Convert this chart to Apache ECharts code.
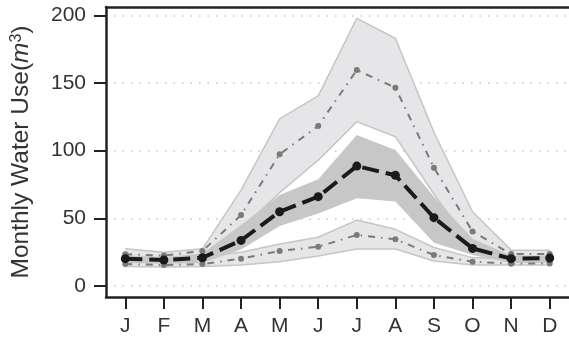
<!DOCTYPE html>
<html><head><meta charset="utf-8">
<script src="https://cdn.jsdelivr.net/npm/echarts@6/dist/echarts.min.js"></script>
<style>html,body{margin:0;padding:0;background:#fff}#c{width:569px;height:339px}</style>
</head><body><div id="c"></div>
<script>
// ---- data ----
const months = ['J','F','M','A','M','J','J','A','S','O','N','D'];
const yTicks = [0,50,100,150,200];
const median     = [20.2, 19.2, 20.9, 33.7, 54.9, 66.0, 88.6, 81.8, 50.5, 27.8, 20.2, 20.7];
const upperLine  = [23.5, 22.5, 25.9, 52.4, 97.3, 118.2, 159.5, 146.5, 87.4, 40.3, 23.6, 23.6];
const lowerLine  = [16.2, 15.5, 16.2, 20.2, 25.9, 29.0, 37.7, 34.5, 22.9, 18.0, 16.5, 16.7];
const upperBandHi = [27.5, 25.0, 27.5, 70.9, 123.5, 140.5, 197.7, 183.0, 113.5, 54.9, 26.5, 26.5];
const upperBandLo = [20.0, 19.0, 21.0, 42.0, 69.0, 93.0, 121.4, 110.3, 68.0, 28.0, 20.0, 20.0];
const midBandHi   = [22.5, 21.5, 24.0, 45.0, 67.2, 78.8, 111.5, 100.5, 66.0, 35.0, 22.5, 22.5];
const midBandLo   = [17.0, 16.5, 17.0, 27.0, 44.3, 53.5, 64.8, 62.5, 32.0, 22.9, 17.0, 17.0];
const lowerBandHi = [21.0, 20.0, 22.0, 25.0, 31.0, 36.0, 48.7, 41.9, 28.5, 21.0, 20.0, 20.0];
const lowerBandLo = [14.5, 14.0, 14.5, 15.5, 18.0, 22.2, 27.3, 27.3, 18.5, 15.5, 15.5, 15.5];

// ---- helpers ----
const diff = (hi, lo) => hi.map((v,i)=> +(v - lo[i]).toFixed(3));
const FONT = '"Liberation Sans", Arial, sans-serif';

function band(name, lo, hi, fill, border, z){
  const bw = border ? 1.5 : 0;
  const bc = border || 'rgba(0,0,0,0)';
  const s = [
    {name:name+'Base', type:'line', stack:name, data:lo, symbol:'none',
     lineStyle:{width:0, color:'rgba(0,0,0,0)'}, z:z, silent:true},
    {name:name, type:'line', stack:name, data:diff(hi, lo), symbol:'none',
     lineStyle:{width:bw, color:bc}, areaStyle:{color:fill, opacity:1}, z:z, silent:true}
  ];
  if (border) s.push({name:name+'Lo', type:'line', data:lo, symbol:'none',
     lineStyle:{width:bw, color:bc}, z:z, silent:true});
  return s;
}

const chart = echarts.init(document.getElementById('c'), null, {renderer:'canvas'});
chart.setOption({
  animation:false,
  backgroundColor:'#fff',
  grid:{left:106, right:-9.3, top:7, bottom:42},
  xAxis:[{
    type:'category', data:months, boundaryGap:true,
    axisLine:{show:true, onZero:false, lineStyle:{color:'#222', width:2.5}},
    axisTick:{show:true, alignWithLabel:true, length:12, lineStyle:{color:'#222', width:2}},
    axisLabel:{fontSize:21, color:'#333', margin:19, fontFamily:FONT, interval:0},
    splitLine:{show:false}
  },{
    type:'category', data:months, position:'top', boundaryGap:true,
    axisLine:{show:true, onZero:false, lineStyle:{color:'#222', width:2.5}},
    axisTick:{show:false}, axisLabel:{show:false}, splitLine:{show:false}
  }],
  yAxis:{
    type:'value', min:-8.1, max:206.1,
    axisLine:{show:true, onZero:false, lineStyle:{color:'#222', width:2.5}},
    axisTick:{show:true, customValues:yTicks, length:12, lineStyle:{color:'#222', width:2}},
    axisLabel:{customValues:yTicks, fontSize:21, color:'#333', margin:20, fontFamily:FONT},
    splitLine:{show:true, lineStyle:{color:'#c8c8c8', type:[1.5,7], dashOffset:-8, width:1.5}},
    name:'{a|Monthly Water Use(}{i|m}{s|3}{a|)}',
    nameLocation:'middle', nameGap:72, nameRotate:90,
    nameTextStyle:{fontFamily:FONT, color:'#333', rich:{
      a:{fontSize:24.5, fontFamily:FONT, color:'#333'},
      i:{fontSize:24.5, fontFamily:FONT, color:'#333', fontStyle:'italic'},
      s:{fontSize:16, fontFamily:FONT, color:'#333', verticalAlign:'top', padding:[0,0,9,0]}
    }}
  },
  series:[
    ...band('upperBand', upperBandLo, upperBandHi, '#e6e6e8', '#c6c6c6', 1),
    ...band('lowerBand', lowerBandLo, lowerBandHi, '#e6e6e8', '#c6c6c6', 1),
    ...band('midBand', midBandLo, midBandHi, '#c7c7c7', null, 2),
    {name:'upper', type:'line', data:upperLine, z:3, symbol:'circle', symbolSize:6,
     itemStyle:{color:'#7a7a7a'}, lineStyle:{color:'#7a7a7a', width:2, type:[7,6,1.5,6]}},
    {name:'lower', type:'line', data:lowerLine, z:3, symbol:'circle', symbolSize:6,
     itemStyle:{color:'#7a7a7a'}, lineStyle:{color:'#7a7a7a', width:2, type:[7,6,1.5,6]}},
    {name:'median', type:'line', data:median, z:4, symbol:'circle', symbolSize:9,
     itemStyle:{color:'#1a1a1a'}, lineStyle:{color:'#1a1a1a', width:4, type:[17,7]}}
  ]
});
</script></body></html>
